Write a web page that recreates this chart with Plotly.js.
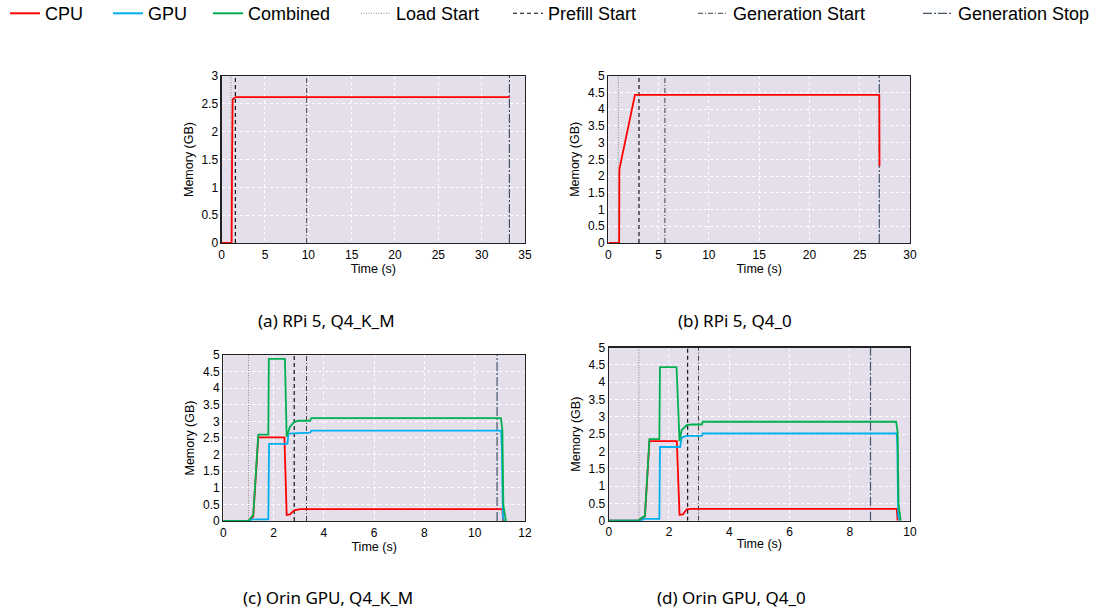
<!DOCTYPE html>
<html>
<head>
<meta charset="utf-8">
<script src="https://cdn.plot.ly/plotly-3.0.1.min.js"></script>
<style>html,body{margin:0;padding:0;background:#fff}#chart{width:1105px;height:613px}</style>
</head>
<body>
<div id="chart"></div>
<script>
// ---- Data ----
const seriesNames = ["CPU", "GPU", "Combined"];
const eventNames = ["Load Start", "Prefill Start", "Generation Start", "Generation Stop"];
const captions = ["(a) RPi 5, Q4_K_M", "(b) RPi 5, Q4_0", "(c) Orin GPU, Q4_K_M", "(d) Orin GPU, Q4_0"];

// (a) RPi 5, Q4_K_M
const a_cpu_t = [0, 1.15, 1.2, 1.27, 1.6, 33.25];
const a_cpu   = [0, 0, 1.5, 2.58, 2.62, 2.62];
const a_events = [1.08, 1.58, 9.81, 33.2];

// (b) RPi 5, Q4_0
const b_cpu_t = [0, 1.08, 1.1, 2.65, 26.95, 26.97];
const b_cpu   = [0, 0, 2.2, 4.43, 4.43, 2.3];
const b_events = [1.0, 3.05, 5.63, 26.95];

// (c) Orin GPU, Q4_K_M
const c_cpu_t  = [0, 1.0, 1.19, 1.39, 2.43, 2.52, 2.65, 2.82, 3.05, 11.1, 11.13];
const c_cpu    = [0, 0, 0.13, 2.52, 2.52, 0.18, 0.2, 0.32, 0.36, 0.36, 0];
const c_gpu_t  = [0, 1.06, 1.13, 1.79, 1.82, 2.55, 2.59, 3.45, 3.51, 11.05, 11.08, 11.12, 11.18];
const c_gpu    = [0, 0, 0.05, 0.05, 2.32, 2.32, 2.63, 2.66, 2.72, 2.72, 2.2, 0.1, 0];
const c_comb_t = [0, 1.0, 1.13, 1.19, 1.39, 1.79, 1.81, 2.45, 2.52, 2.58, 2.65, 2.81, 2.98, 3.45, 3.5, 11.04, 11.07, 11.1, 11.14, 11.24];
const c_comb   = [0, 0, 0.13, 0.18, 2.6, 2.6, 4.88, 4.88, 2.54, 2.7, 2.84, 2.97, 3.02, 3.02, 3.1, 3.1, 2.8, 2.75, 0.48, 0];
const c_events = [1.0, 2.82, 3.31, 10.89];

// (d) Orin GPU, Q4_0
const d_cpu_t  = [0, 0.98, 1.2, 1.35, 2.26, 2.35, 2.46, 2.59, 2.75, 9.56, 9.59];
const d_cpu    = [0, 0, 0.12, 2.3, 2.3, 0.17, 0.18, 0.33, 0.34, 0.34, 0];
const d_gpu_t  = [0, 1.1, 1.15, 1.68, 1.7, 2.37, 2.42, 2.57, 3.09, 3.12, 9.56, 9.58, 9.61, 9.67];
const d_gpu    = [0, 0, 0.05, 0.05, 2.13, 2.13, 2.4, 2.45, 2.45, 2.52, 2.52, 2.2, 0.12, 0];
const d_comb_t = [0, 0.98, 1.1, 1.2, 1.35, 1.68, 1.7, 2.25, 2.35, 2.42, 2.59, 2.75, 3.09, 3.12, 9.54, 9.59, 9.62, 9.69];
const d_comb   = [0, 0, 0.09, 0.13, 2.36, 2.36, 4.44, 4.44, 2.3, 2.62, 2.76, 2.78, 2.78, 2.86, 2.86, 2.57, 0.5, 0];
const d_events = [1.0, 2.62, 2.98, 8.69];

// ---- Styles ----
const seriesColors = ["#ff0000", "#00b0f0", "#00b050"];
const eventStyles = [
  {color: "#8c8c8c", dash: "1px,1.5px", width: 1},
  {color: "#000000", dash: "4px,3px", width: 1.1},
  {color: "#404040", dash: "5px,2px,1px,2px", width: 1},
  {color: "#44546a", dash: "9px,2px,2px,2px", width: 1.2}
];
// legend item left positions (px)
const legendX = [5, 108, 208, 356, 508, 693, 918];

const panels = [
  {xa: "x",  ya: "y",  ymax: 3, events: a_events, series: [[a_cpu_t, a_cpu], null, null]},
  {xa: "x2", ya: "y2", ymax: 5, events: b_events, series: [[b_cpu_t, b_cpu], null, null]},
  {xa: "x3", ya: "y3", ymax: 5, events: c_events, series: [[c_cpu_t, c_cpu], [c_gpu_t, c_gpu], [c_comb_t, c_comb]]},
  {xa: "x4", ya: "y4", ymax: 5, events: d_events, series: [[d_cpu_t, d_cpu], [d_gpu_t, d_gpu], [d_comb_t, d_comb]]}
];

const traces = [];
panels.forEach(p => {
  p.events.forEach((v, i) => {
    traces.push({
      type: "scatter", mode: "lines", x: [v, v], y: [0, p.ymax],
      xaxis: p.xa, yaxis: p.ya, name: eventNames[i], showlegend: false,
      line: eventStyles[i], hoverinfo: "skip"
    });
  });
});
panels.forEach(p => {
  p.series.forEach((s, i) => {
    if (!s) return;
    traces.push({
      type: "scatter", mode: "lines", x: s[0], y: s[1],
      xaxis: p.xa, yaxis: p.ya, name: seriesNames[i], showlegend: false,
      line: {color: seriesColors[i], width: 1.8}
    });
  });
});
// legend-only entries, each in its own legend box
const legendNames = seriesNames.concat(eventNames);
const legendLines = seriesColors.map(c => ({color: c, width: 2})).concat(eventStyles);
const legendLayouts = {};
legendNames.forEach((n, i) => {
  const key = i === 0 ? "legend" : "legend" + (i + 1);
  traces.push({type: "scatter", mode: "lines", x: [null], y: [null], name: n,
    line: legendLines[i], showlegend: true, legend: key});
  legendLayouts[key] = {orientation: "h", x: legendX[i] / 1105, y: 1.008, xanchor: "left", yanchor: "top",
    font: {family: "Liberation Sans, Arial, sans-serif", size: 18, color: "#000"},
    bgcolor: "rgba(0,0,0,0)", borderwidth: 0};
});

const tickFont = {family: "Liberation Sans, Arial, sans-serif", size: 12, color: "#000"};
const titleFont = {family: "Liberation Sans, Arial, sans-serif", size: 12.5, color: "#000"};
const gridDash = "3px,3px";
function xax(domain, range, dtick, anchor) {
  return {domain, range, dtick, anchor, tick0: 0, showline: true, mirror: true, linecolor: "#222", linewidth: 1.2,
    showgrid: true, gridcolor: "#ffffff", griddash: gridDash, gridwidth: 1, zeroline: false, ticks: "",
    automargin: false, tickfont: tickFont, title: {text: "Time (s)", font: titleFont, standoff: 1}};
}
function yax(domain, range, anchor) {
  return {domain, range, dtick: 0.5, anchor, tick0: 0, showline: true, mirror: true, linecolor: "#222", linewidth: 1.2,
    showgrid: true, gridcolor: "#ffffff", griddash: gridDash, gridwidth: 1, zeroline: false, ticks: "",
    automargin: false, tickfont: tickFont, title: {text: "Memory (GB)", font: titleFont, standoff: 5}};
}

const capFont = {family: "Noto Sans, DejaVu Sans, sans-serif", size: 17, color: "#000"};
const layout = Object.assign({
  width: 1105, height: 613,
  margin: {l: 0, r: 0, t: 0, b: 0, pad: 0, autoexpand: false},
  paper_bgcolor: "#ffffff", plot_bgcolor: "#e4dfeb",
  showlegend: true,
  xaxis:  xax([0.2006, 0.4751], [0, 35], 5, "y"),
  yaxis:  yax([0.6036, 0.8760], [0, 3], "x"),
  xaxis2: xax([0.5505, 0.8235], [0, 30], 5, "y2"),
  yaxis2: yax([0.6036, 0.8765], [0, 5], "x2"),
  xaxis3: xax([0.2021, 0.4751], [0, 12], 2, "y3"),
  yaxis3: yax([0.1501, 0.4209], [0, 5], "x3"),
  xaxis4: xax([0.5509, 0.8235], [0, 10], 2, "y4"),
  yaxis4: yax([0.1506, 0.4328], [0, 5], "x4"),
  annotations: [
    {text: captions[0], x: 326 / 1105, y: 1 - 320 / 613},
    {text: captions[1], x: 735 / 1105, y: 1 - 320 / 613},
    {text: captions[2], x: 328 / 1105, y: 1 - 597 / 613},
    {text: captions[3], x: 731 / 1105, y: 1 - 597 / 613}
  ].map(a => Object.assign(a, {xref: "paper", yref: "paper", showarrow: false, xanchor: "center", yanchor: "middle", font: capFont}))
}, legendLayouts);

Plotly.newPlot("chart", traces, layout, {displayModeBar: false, staticPlot: true});
</script>
</body>
</html>
